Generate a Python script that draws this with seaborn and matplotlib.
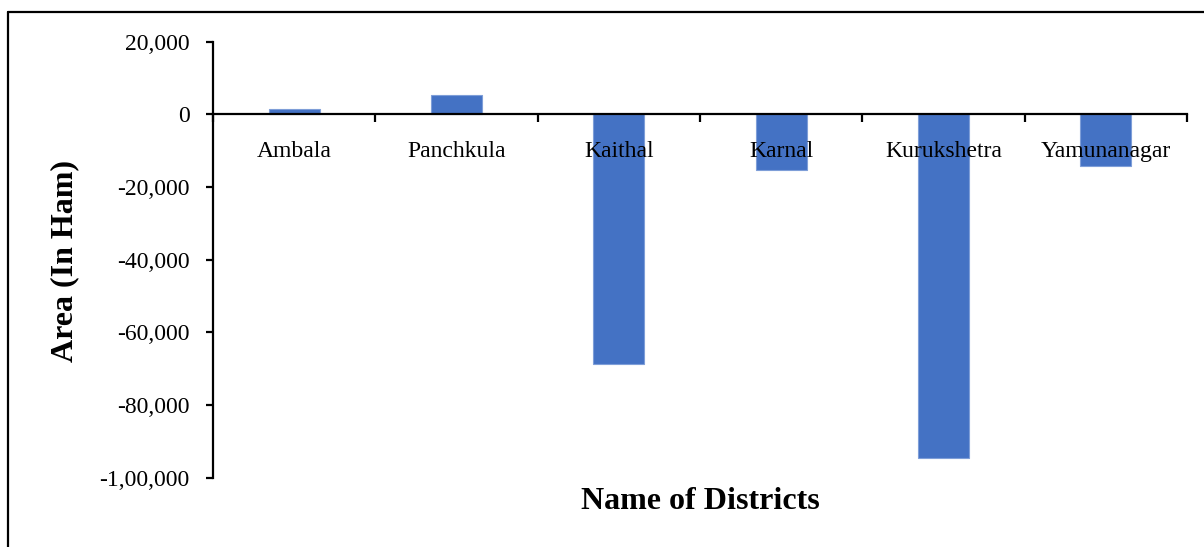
import matplotlib
matplotlib.use("Agg")
import matplotlib.pyplot as plt
from matplotlib.lines import Line2D
from matplotlib.ticker import FixedLocator, FuncFormatter
import seaborn as sns
import pandas as pd

# District-wise change in area (hectare-metre)
districts = ["Ambala", "Panchkula", "Kaithal", "Karnal", "Kurukshetra", "Yamunanagar"]
area_ham = [1600, 5300, -68800, -15200, -94500, -14300]
y_ticks = [20000, 0, -20000, -40000, -60000, -80000, -100000]

df = pd.DataFrame({"District": districts, "Area": area_ham})

sns.set_theme(style="white")
plt.rcParams["font.family"] = ["Liberation Serif", "DejaVu Serif"]

fig = plt.figure(figsize=(12.04, 5.47), dpi=100)
ax = fig.add_axes([0.1769, 0.1267, 0.8090, 0.7971])

sns.barplot(data=df, x="District", y="Area", color="#4472C4", width=0.315,
            saturation=1, edgecolor="#7E9ED8", linewidth=0.8, ax=ax)
# axis lines and category names are drawn over the bars
ax.set_axisbelow(False)


def indian_format(v, pos=None):
    v = int(round(v))
    sign = "-" if v < 0 else ""
    s = str(abs(v))
    if len(s) > 3:
        head, tail = s[:-3], s[-3:]
        groups = []
        while len(head) > 2:
            groups.insert(0, head[-2:])
            head = head[:-2]
        if head:
            groups.insert(0, head)
        s = ",".join(groups) + "," + tail
    return sign + s


ax.set_ylim(-100000, 20000)
ax.set_xlim(-0.5, len(districts) - 0.5)
ax.yaxis.set_major_locator(FixedLocator(y_ticks))
ax.yaxis.set_major_formatter(FuncFormatter(indian_format))

# category axis sits on the zero line
ax.spines["bottom"].set_position(("data", 0))
ax.spines["top"].set_visible(False)
ax.spines["right"].set_visible(False)
for side in ("left", "bottom"):
    ax.spines[side].set_color("black")
    ax.spines[side].set_linewidth(1.6)
    ax.spines[side].set_zorder(5)

ax.set_xticks(range(len(districts)))
ax.set_xticklabels(districts)
ax.set_xticks([i - 0.5 for i in range(len(districts) + 1)], minor=True)
ax.tick_params(axis="x", which="major", length=0, pad=19, labelsize=17, colors="black")
ax.tick_params(axis="x", which="minor", bottom=True, length=6, width=1.6,
               direction="out", color="black")
ax.tick_params(axis="y", which="major", left=True, length=5, width=1.6,
               direction="out", pad=12, labelsize=17, colors="black")
ax.xaxis.set_zorder(4)

ax.set_xlabel("")
ax.set_ylabel("")
fig.text(0.5814, 0.083, "Name of Districts", ha="center", va="center",
         fontsize=23, fontweight="bold", color="black")
fig.text(0.054, 0.523, "Area (In Ham)", ha="center", va="center", rotation=90,
         fontsize=23, fontweight="bold", color="black")

# chart-area border
fig.add_artist(Line2D([8 / 1204, 8 / 1204], [0, 1 - 12 / 547],
                      transform=fig.transFigure, color="black", linewidth=1.6))
fig.add_artist(Line2D([8 / 1204, 1], [1 - 12 / 547, 1 - 12 / 547],
                      transform=fig.transFigure, color="black", linewidth=1.6))

fig.savefig("out.png", dpi=100, facecolor="white")
